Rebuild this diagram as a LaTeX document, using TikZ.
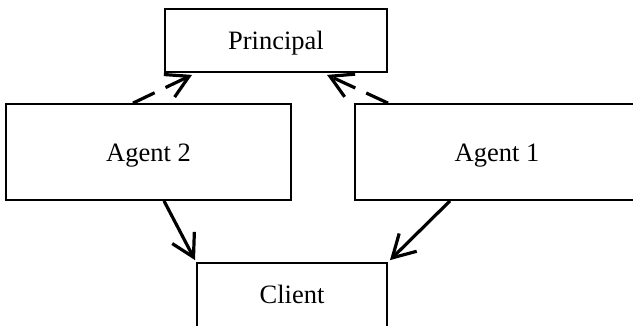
\documentclass[tikz,border=0pt]{standalone}
\usepackage{fontspec}
\setmainfont{Liberation Serif}
\usetikzlibrary{arrows.meta,calc}
\begin{document}
\begin{tikzpicture}[x=1pt,y=-1pt,
  box/.style={draw, line width=1.8pt, inner sep=0pt, text height=18pt, text depth=0pt, font=\fontsize{26.5}{30}\selectfont},
  conn/.style={line width=3.2pt, -{Straight Barb[length=22pt,width=25pt]}},
  dconn/.style={conn, dash pattern=on 24pt off 12pt}]
\clip (0,0) rectangle (633,325);
\useasboundingbox (0,0) rectangle (633,325);
\node[box, minimum width=222pt, minimum height=63pt] (p) at (276,40.5) {Principal};
\node[box, minimum width=285pt, minimum height=96pt] (a2) at (148.5,152) {Agent 2};
\node[box, minimum width=284pt, minimum height=96pt] (a1) at (497,152) {Agent 1};
\node[box, minimum width=190pt, minimum height=70pt, text height=14pt] (c) at (292,298) {\raisebox{2pt}{Client}};
\draw[dconn] ($(a2.north)+(-15.5,0)$) -- ($(p.south)+(-84,2)$);
\draw[dconn] ($(a1.north)+(-109,0)$) -- ($(p.south)+(51,2)$);
\draw[conn] ($(a2.south)+(15.5,0)$) -- ($(c.north)+(-97,-2)$);
\draw[conn] ($(a1.south)+(-47,0)$) -- ($(c.north)+(98,-2)$);
\end{tikzpicture}
\end{document}
